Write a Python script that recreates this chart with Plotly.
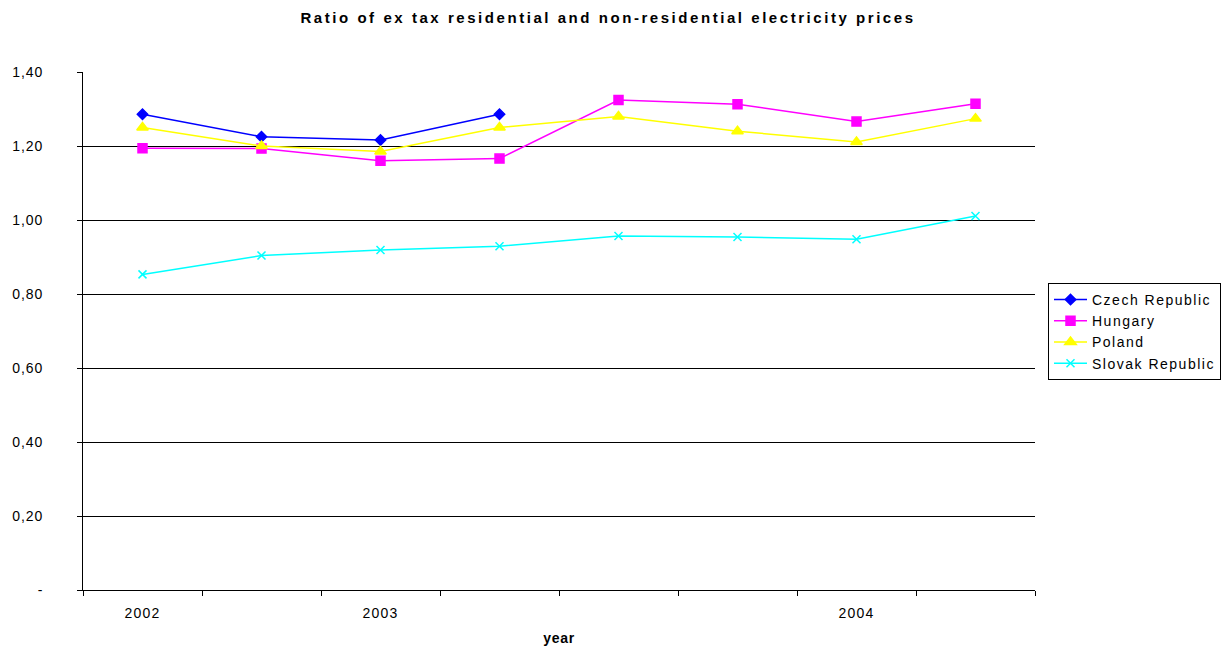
import plotly.graph_objects as go

# Quarterly observation slots; only some carry a year label
slots = [0, 1, 2, 3, 4, 5, 6, 7]
year_ticks = [0, 2, 6]
year_labels = ["2002", "2003", "2004"]

czech = [1.286, 1.225, 1.216, 1.286, None, None, None, None]
hungary = [1.194, 1.193, 1.160, 1.166, 1.324, 1.313, 1.266, 1.314]
poland = [1.250, 1.200, 1.185, 1.250, 1.280, 1.240, 1.211, 1.274]
slovak = [0.853, 0.904, 0.919, 0.929, 0.957, 0.954, 0.948, 1.011]

y_ticks = [0, 0.2, 0.4, 0.6, 0.8, 1.0, 1.2, 1.4]
y_labels = ["-", "0,20", "0,40", "0,60", "0,80", "1,00", "1,20", "1,40"]

title_text = "Ratio of ex tax residential and non-residential electricity prices"
x_title = "year"


def spaced(text, px):
    return f'<span style="letter-spacing:{px}px">{text}</span>'


series = [
    ("Czech Republic", czech, "#0000FF", "diamond", 8),
    ("Hungary", hungary, "#FF00FF", "square", 9),
    ("Poland", poland, "#FFFF00", "triangle-up", 10),
    ("Slovak Republic", slovak, "#00FFFF", "x-thin", 8),
]

fig = go.Figure()
for name, vals, color, sym, size in series:
    fig.add_trace(go.Scatter(
        x=slots, y=vals, name=spaced(name, 1.5), mode="lines+markers",
        line=dict(color=color, width=1.5),
        marker=dict(symbol=sym, size=size, color=color,
                    line=dict(color=color, width=1.5)),
        connectgaps=False,
    ))

font = "Liberation Sans, Arial, sans-serif"
fig.update_layout(
    width=1229, height=649,
    margin=dict(l=83, r=194, t=72, b=59, autoexpand=False),
    paper_bgcolor="white", plot_bgcolor="white",
    font=dict(family=font, size=14, color="black"),
    title=dict(text="<b>" + spaced(title_text, 2.55) + "</b>",
               x=608 / 1229, xanchor="center", y=1 - 18 / 649, yanchor="middle",
               font=dict(size=15, family=font)),
    showlegend=True,
    legend=dict(xref="container", yref="container",
                x=1048 / 1229, xanchor="left", y=1 - 283 / 649, yanchor="top",
                bordercolor="black", borderwidth=1, bgcolor="white",
                font=dict(size=14, family=font), tracegroupgap=0,
                itemwidth=33),
    xaxis=dict(
        automargin=False,
        range=[-0.5, 7.5], tickvals=year_ticks,
        ticktext=[spaced(t, 1.2) for t in year_labels],
        ticks="", showgrid=False, zeroline=False,
        showline=True, linecolor="black", linewidth=1,
        tickfont=dict(size=14), ticklabelstandoff=10,
        minor=dict(tick0=-0.5, dtick=1, ticks="outside", ticklen=5,
                   tickcolor="black", showgrid=False),
        title=dict(text="<b>" + spaced(x_title, 0.7) + "</b>",
                   font=dict(size=14), standoff=13),
    ),
    yaxis=dict(
        automargin=False,
        range=[0, 1.4], tickvals=y_ticks,
        ticktext=[spaced(t, 0.9) for t in y_labels],
        ticks="outside", ticklen=5, tickcolor="black",
        showgrid=True, gridcolor="black", gridwidth=1,
        zeroline=False, showline=True, linecolor="black", linewidth=1,
        tickfont=dict(size=14), ticklabelstandoff=31,
    ),
)

fig.write_html("out.html")
